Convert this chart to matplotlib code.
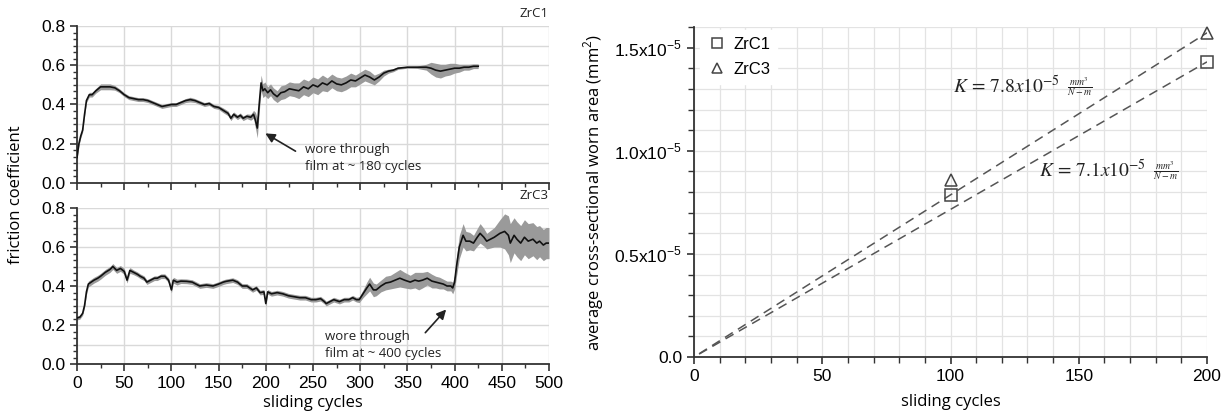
import numpy as np
import matplotlib
matplotlib.use("Agg")
import matplotlib.pyplot as plt
from matplotlib.ticker import MultipleLocator, FixedLocator

# ---------------- data ----------------
zrc1_x = [0, 2, 4, 6, 8, 10, 13, 16, 20, 25, 30, 35, 40, 45, 50, 55, 60, 65, 70, 75, 80, 85,
          90, 95, 100, 105, 110, 115, 120, 125, 130, 135, 140, 145, 150, 155, 160, 163, 166,
          170, 173, 176, 180, 184, 187, 189, 191, 193, 195, 197, 199, 202, 205, 208, 212,
          216, 220, 225, 230, 235, 240, 245, 250, 255, 260, 265, 270, 275, 280, 285, 290,
          295, 300, 305, 310, 315, 320, 325, 330, 335, 340, 350, 360, 370, 375, 380, 385,
          390, 395, 400, 405, 410, 415, 420, 425]
zrc1_y = [0.13, 0.20, 0.24, 0.27, 0.35, 0.42, 0.45, 0.45, 0.47, 0.49, 0.49, 0.49, 0.485, 0.47,
          0.45, 0.435, 0.43, 0.425, 0.425, 0.42, 0.41, 0.40, 0.39, 0.395, 0.40, 0.40, 0.41,
          0.42, 0.425, 0.42, 0.41, 0.40, 0.405, 0.39, 0.385, 0.37, 0.355, 0.33, 0.35, 0.335,
          0.345, 0.33, 0.34, 0.335, 0.35, 0.32, 0.28, 0.40, 0.51, 0.47, 0.48, 0.46, 0.475,
          0.455, 0.44, 0.46, 0.465, 0.48, 0.475, 0.47, 0.49, 0.48, 0.50, 0.49, 0.51, 0.50,
          0.52, 0.505, 0.50, 0.51, 0.525, 0.52, 0.535, 0.55, 0.54, 0.525, 0.54, 0.56, 0.57,
          0.575, 0.585, 0.59, 0.59, 0.59, 0.585, 0.575, 0.57, 0.575, 0.58, 0.585, 0.585,
          0.59, 0.59, 0.595, 0.595]
zrc1_band = [0.01, 0.01, 0.01, 0.01, 0.01, 0.01, 0.012, 0.012, 0.012, 0.015, 0.015, 0.015,
             0.012, 0.01, 0.01, 0.01, 0.01, 0.01, 0.01, 0.01, 0.01, 0.01, 0.01, 0.01, 0.01,
             0.01, 0.01, 0.01, 0.012, 0.01, 0.01, 0.01, 0.01, 0.01, 0.01, 0.012, 0.012,
             0.012, 0.012, 0.012, 0.012, 0.012, 0.012, 0.015, 0.02, 0.04, 0.05, 0.04, 0.04,
             0.035, 0.035, 0.03, 0.03, 0.03, 0.03, 0.035, 0.035, 0.035, 0.035, 0.04, 0.04,
             0.04, 0.04, 0.04, 0.04, 0.035, 0.035, 0.035, 0.035, 0.035, 0.035, 0.03, 0.03,
             0.03, 0.03, 0.025, 0.02, 0.015, 0.01, 0.008, 0.006, 0.005, 0.006, 0.015, 0.03,
             0.035, 0.035, 0.03, 0.03, 0.025, 0.02, 0.015, 0.015, 0.012, 0.012]

zrc3_x = [0, 3, 6, 8, 10, 12, 15, 18, 22, 25, 30, 35, 38, 42, 46, 50, 53, 56, 60, 64, 67, 71,
          74, 78, 82, 85, 89, 93, 97, 100, 102, 106, 110, 116, 122, 130, 137, 144, 150, 155,
          158, 165, 170, 175, 180, 186, 190, 194, 198, 200, 202, 206, 212, 218, 224, 230,
          236, 242, 248, 253, 258, 262, 264, 268, 272, 278, 283, 288, 292, 296, 299, 303,
          307, 310, 314, 317, 322, 327, 332, 337, 342, 347, 353, 358, 362, 366, 371, 376,
          380, 384, 388, 392, 396, 398, 400, 402, 405, 409, 412, 416, 420, 424, 427, 431,
          434, 438, 442, 448, 453, 457, 459, 463, 466, 470, 474, 478, 483, 487, 490, 494,
          497, 500]
zrc3_y = [0.236, 0.24, 0.26, 0.30, 0.37, 0.41, 0.42, 0.43, 0.44, 0.45, 0.47, 0.485, 0.50,
          0.48, 0.49, 0.475, 0.43, 0.48, 0.47, 0.46, 0.45, 0.44, 0.42, 0.43, 0.44, 0.44, 0.45,
          0.45, 0.43, 0.38, 0.43, 0.42, 0.425, 0.424, 0.42, 0.40, 0.405, 0.40, 0.41, 0.42,
          0.424, 0.43, 0.42, 0.40, 0.40, 0.38, 0.39, 0.366, 0.37, 0.31, 0.37, 0.36, 0.366,
          0.36, 0.35, 0.345, 0.34, 0.34, 0.33, 0.33, 0.335, 0.32, 0.31, 0.32, 0.33, 0.32,
          0.33, 0.33, 0.34, 0.33, 0.33, 0.36, 0.39, 0.41, 0.38, 0.38, 0.40, 0.415, 0.42,
          0.43, 0.44, 0.43, 0.42, 0.43, 0.425, 0.43, 0.44, 0.425, 0.42, 0.415, 0.41, 0.40,
          0.40, 0.39, 0.42, 0.50, 0.60, 0.66, 0.63, 0.63, 0.62, 0.65, 0.67, 0.65, 0.63,
          0.64, 0.65, 0.67, 0.68, 0.66, 0.62, 0.66, 0.64, 0.62, 0.65, 0.63, 0.64, 0.62,
          0.63, 0.61, 0.62, 0.62]
zrc3_band = [0.01, 0.01, 0.01, 0.01, 0.015, 0.015, 0.015, 0.015, 0.015, 0.015, 0.015, 0.015,
             0.015, 0.015, 0.015, 0.015, 0.015, 0.015, 0.012, 0.012, 0.012, 0.012, 0.012,
             0.012, 0.012, 0.012, 0.012, 0.012, 0.012, 0.015, 0.015, 0.015, 0.012, 0.012,
             0.012, 0.012, 0.012, 0.012, 0.012, 0.012, 0.012, 0.012, 0.012, 0.012, 0.012,
             0.012, 0.012, 0.012, 0.012, 0.015, 0.012, 0.012, 0.012, 0.012, 0.012, 0.012,
             0.012, 0.012, 0.012, 0.012, 0.012, 0.012, 0.012, 0.012, 0.012, 0.012, 0.012,
             0.012, 0.012, 0.012, 0.015, 0.02, 0.03, 0.035, 0.035, 0.03, 0.03, 0.035, 0.035,
             0.04, 0.045, 0.04, 0.035, 0.04, 0.045, 0.04, 0.035, 0.035, 0.03, 0.03, 0.025,
             0.025, 0.025, 0.03, 0.035, 0.05, 0.06, 0.06, 0.05, 0.045, 0.04, 0.045, 0.05,
             0.045, 0.04, 0.045, 0.05, 0.07, 0.09, 0.10, 0.10, 0.09, 0.09, 0.09, 0.09, 0.09,
             0.085, 0.085, 0.08, 0.08, 0.08, 0.08]

wear_x = [100, 200]
wear_zrc1 = [0.785e-5, 1.432e-5]
wear_zrc3 = [0.858e-5, 1.573e-5]
fit_x = [2, 200]
k_zrc1 = 0.7155e-7   # slope of fitted line (mm^2 per cycle)
k_zrc3 = 0.786e-7
k_labels = [r'$K\,=\,7.8x10^{-5}$', r'$K\,=\,7.1x10^{-5}$']

# ---------------- figure ----------------
W, H = 1231, 413
fig = plt.figure(figsize=(W / 100, H / 100), dpi=100)
matplotlib.rcParams['mathtext.fontset'] = 'custom'
matplotlib.rcParams['mathtext.rm'] = 'Liberation Sans'

LBL = ['Open Sans', 'DejaVu Sans']
TCK = ['Liberation Sans', 'DejaVu Sans']
grid_c = '#d9d9d9'


def fpos(x0, y0, x1, y1):
    return [x0 / W, 1 - y1 / H, (x1 - x0) / W, (y1 - y0) / H]


def style_friction(ax):
    ax.set_xlim(0, 500)
    ax.set_ylim(0, 0.8)
    ax.xaxis.set_major_locator(MultipleLocator(50))
    ax.xaxis.set_minor_locator(MultipleLocator(25))
    ax.yaxis.set_major_locator(MultipleLocator(0.2))
    ax.yaxis.set_minor_locator(MultipleLocator(0.2 / 6))
    for v in np.arange(0, 501, 50):
        ax.axvline(v, color=grid_c, lw=1.0, zorder=0)
    for v in np.arange(0.1, 0.81, 0.1):
        ax.axhline(v, color=grid_c, lw=1.0, zorder=0)
    for s in ('top', 'right'):
        ax.spines[s].set_visible(False)
    for s in ('left', 'bottom'):
        ax.spines[s].set_color('#333333')
        ax.spines[s].set_linewidth(1.3)
    ax.tick_params(which='major', direction='out', length=5, width=1.2, color='#333333',
                   labelsize=12.5)
    ax.tick_params(which='minor', direction='out', length=3, width=1.0, color='#333333')
    ax.yaxis.set_major_formatter(matplotlib.ticker.FormatStrFormatter('%.1f'))
    for t in ax.get_xticklabels() + ax.get_yticklabels():
        t.set_family(TCK)


ax1 = fig.add_axes(fpos(77, 26, 549, 183))
ax2 = fig.add_axes(fpos(77, 208, 549, 364))

for ax, xs, ys, bs, lab in ((ax1, zrc1_x, zrc1_y, zrc1_band, 'ZrC1'),
                            (ax2, zrc3_x, zrc3_y, zrc3_band, 'ZrC3')):
    style_friction(ax)
    xs = np.array(xs); ys = np.array(ys); bs = np.array(bs)
    ax.fill_between(xs, ys - bs, ys + bs, color='#9a9a9a', lw=0, zorder=2)
    ax.plot(xs, ys, color='#111111', lw=1.2, zorder=3)
    ax.text(1.0, 1.04, lab, transform=ax.transAxes, ha='right', va='bottom',
            fontsize=9.5, family=LBL, color='#222222')

ax1.tick_params(labelbottom=False)
for t in ax2.get_xticklabels() + ax2.get_yticklabels() + ax1.get_yticklabels():
    t.set_family(TCK)

ax2.set_xlabel('sliding cycles', family=LBL, fontsize=12, labelpad=3)
fig.text(16 / W, 1 - 195 / H, 'friction coefficient', rotation=90, ha='center', va='center',
         family=LBL, fontsize=12)

ax1.annotate('', xy=(197, 0.26), xytext=(234, 0.155),
             arrowprops=dict(arrowstyle='-|>', color='#222222', lw=1.2, mutation_scale=14),
             zorder=5)
ax1.text(242, 0.127, 'wore through\nfilm at ~ 180 cycles', ha='left', va='center',
         family=LBL, fontsize=9.5, linespacing=1.35, color='#222222')
ax2.annotate('', xy=(393, 0.29), xytext=(367, 0.15),
             arrowprops=dict(arrowstyle='-|>', color='#222222', lw=1.2, mutation_scale=14),
             zorder=5)
ax2.text(263, 0.097, 'wore through\nfilm at ~ 400 cycles', ha='left', va='center',
         family=LBL, fontsize=9.5, linespacing=1.35, color='#222222')

# ---------------- wear panel ----------------
ax3 = fig.add_axes(fpos(694, 27, 1207, 357))
ax3.set_xlim(0, 200)
ax3.set_ylim(0, 1.6e-5)
ax3.xaxis.set_major_locator(MultipleLocator(50))
ax3.xaxis.set_minor_locator(MultipleLocator(10))
ax3.yaxis.set_major_locator(FixedLocator([0, 0.5e-5, 1.0e-5, 1.5e-5]))
ax3.yaxis.set_minor_locator(MultipleLocator(0.1e-5))
ax3.set_yticklabels(['0.0', r'0.5x10$^{\mathregular{-5}}$', r'1.0x10$^{\mathregular{-5}}$',
                     r'1.5x10$^{\mathregular{-5}}$'])
ax3.grid(which='both', color='#e3e3e3', lw=0.9, zorder=0)
ax3.set_axisbelow(True)
for s in ('top', 'right'):
    ax3.spines[s].set_visible(False)
for s in ('left', 'bottom'):
    ax3.spines[s].set_color('#333333')
    ax3.spines[s].set_linewidth(1.3)
ax3.tick_params(which='major', direction='out', length=5, width=1.2, color='#333333',
                labelsize=12.5)
ax3.tick_params(which='minor', direction='out', length=4, width=1.0, color='#333333')
for t in ax3.get_xticklabels() + ax3.get_yticklabels():
    t.set_family(TCK)

fx = np.array(fit_x)
ax3.plot(fx, k_zrc1 * fx, ls=(0, (6, 4)), color='#555555', lw=1.1, zorder=3)
ax3.plot(fx, k_zrc3 * fx, ls=(0, (6, 4)), color='#555555', lw=1.1, zorder=3)
ax3.plot(wear_x, wear_zrc1, ls='none', marker='s', ms=8.5, mfc='none', mec='#444444',
         mew=1.1, label='ZrC1', zorder=4, clip_on=False)
ax3.plot(wear_x, wear_zrc3, ls='none', marker='^', ms=8.5, mfc='none', mec='#444444',
         mew=1.1, label='ZrC3', zorder=4, clip_on=False)
leg = ax3.legend(loc='upper left', bbox_to_anchor=(0.005, 1.0), frameon=True, fancybox=False,
                 edgecolor='white', facecolor='white', framealpha=1.0,
                 prop={'family': TCK, 'size': 12}, handletextpad=0.4, borderaxespad=0.2,
                 handlelength=1.2, labelspacing=0.6, markerscale=0.85)

ax3.set_xlabel('sliding cycles', family=LBL, fontsize=12, labelpad=7)
ax3.set_ylabel('average cross-sectional worn area (mm$^{\\mathregular{2}}$)', family=LBL,
               fontsize=12, labelpad=6)

frac = r'$\frac{mm^3}{N-m}$'
for lab, (kx, ky) in zip(k_labels, [(101, 1.31e-5), (134.5, 0.905e-5)]):
    t = ax3.text(kx, ky, lab, fontsize=14, ha='left', va='center', zorder=5,
                 math_fontfamily='stix', color='#222222')
    ax3.annotate(frac, xy=(1, 0.5), xycoords=t, xytext=(5, 0), textcoords='offset points',
                 fontsize=10, ha='left', va='center', math_fontfamily='stix',
                 color='#222222', zorder=5)

fig.savefig('out.png', dpi=100, facecolor='white')
